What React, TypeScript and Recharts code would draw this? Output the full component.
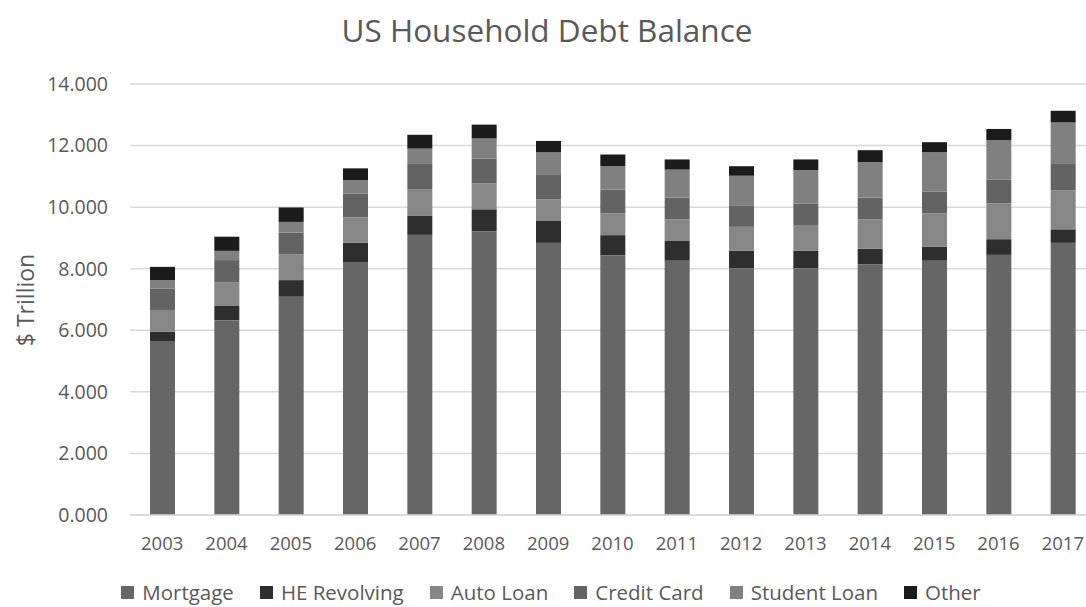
import { BarChart, Bar, XAxis, YAxis, CartesianGrid } from 'recharts'

const years = ['2003', '2004', '2005', '2006', '2007', '2008', '2009', '2010', '2011', '2012', '2013', '2014', '2015', '2016', '2017']
const mortgage = [5.63, 6.33, 7.11, 8.2, 9.1, 9.22, 8.84, 8.44, 8.26, 8.01, 8.01, 8.14, 8.26, 8.45, 8.84]
const heRevolving = [0.32, 0.46, 0.52, 0.64, 0.63, 0.71, 0.71, 0.65, 0.64, 0.57, 0.57, 0.51, 0.45, 0.51, 0.44]
const autoLoan = [0.71, 0.76, 0.83, 0.83, 0.84, 0.84, 0.7, 0.71, 0.7, 0.78, 0.84, 0.95, 1.09, 1.16, 1.27]
const creditCard = [0.7, 0.73, 0.71, 0.77, 0.83, 0.81, 0.82, 0.77, 0.71, 0.7, 0.7, 0.71, 0.7, 0.77, 0.85]
const studentLoan = [0.27, 0.3, 0.35, 0.44, 0.5, 0.65, 0.71, 0.76, 0.91, 0.96, 1.08, 1.15, 1.29, 1.29, 1.35]
const other = [0.43, 0.46, 0.47, 0.38, 0.45, 0.45, 0.37, 0.38, 0.33, 0.31, 0.35, 0.39, 0.32, 0.36, 0.38]
const yTicks = [0, 2, 4, 6, 8, 10, 12, 14]

const SERIES = [
  { key: 'mortgage', name: 'Mortgage', color: '#666666' },
  { key: 'heRevolving', name: 'HE Revolving', color: '#2e2e2e' },
  { key: 'autoLoan', name: 'Auto Loan', color: '#878787' },
  { key: 'creditCard', name: 'Credit Card', color: '#636363' },
  { key: 'studentLoan', name: 'Student Loan', color: '#808080' },
  { key: 'other', name: 'Other', color: '#1b1b1b' },
]

const data = years.map((year, i) => ({
  year,
  mortgage: mortgage[i],
  heRevolving: heRevolving[i],
  autoLoan: autoLoan[i],
  creditCard: creditCard[i],
  studentLoan: studentLoan[i],
  other: other[i],
}))

const FONT = '"Open Sans", sans-serif'
const TEXT = '#595959'

export default function App() {
  return (
    <div
      style={{
        position: 'fixed',
        left: 0,
        top: 0,
        width: 1086,
        height: 607,
        overflow: 'hidden',
        background: '#fff',
        fontFamily: FONT,
        color: TEXT,
      }}
    >
      <div
        style={{
          position: 'absolute',
          left: 0,
          top: 8,
          width: 1094,
          textAlign: 'center',
          fontSize: 31.5,
          lineHeight: '44px',
        }}
      >
        US Household Debt Balance
      </div>
      <div
        style={{
          position: 'absolute',
          left: 25,
          top: 300,
          transform: 'translate(-50%, -50%) rotate(-90deg)',
          fontSize: 23,
          whiteSpace: 'nowrap',
        }}
      >
        $ Trillion
      </div>
      <div style={{ position: 'absolute', left: 0, top: 0 }}>
        <BarChart
          width={1100}
          height={607}
          data={data}
          barSize={25}
          margin={{ top: 84, right: 5, bottom: 62, left: 50 }}
        >
          <CartesianGrid vertical={false} stroke="#d9d9d9" strokeWidth={1.5} />
          <XAxis
            dataKey="year"
            height={30}
            axisLine={{ stroke: '#d9d9d9', strokeWidth: 1.5 }}
            tickLine={false}
            tickSize={0}
            tickMargin={22}
            interval={0}
            tick={{ fontSize: 18.5, fill: TEXT, fontFamily: FONT }}
          />
          <YAxis
            width={80}
            domain={[0, 14]}
            ticks={yTicks}
            axisLine={false}
            tickLine={false}
            tickSize={0}
            tickMargin={22}
            tickFormatter={(v: number) => v.toFixed(3)}
            tick={{ fontSize: 19.5, fill: TEXT, fontFamily: FONT }}
          />
          {SERIES.map((s) => (
            <Bar key={s.key} dataKey={s.key} name={s.name} stackId="a" fill={s.color} isAnimationActive={false} />
          ))}
        </BarChart>
      </div>
      <div
        style={{
          position: 'absolute',
          left: 0,
          top: 581,
          width: 1102,
          display: 'flex',
          justifyContent: 'center',
          gap: 26,
          fontSize: 20.5,
          lineHeight: '22px',
        }}
      >
        {SERIES.map((s) => (
          <span key={s.key} style={{ display: 'flex', alignItems: 'center', gap: 8 }}>
            <span style={{ display: 'inline-block', width: 13, height: 13, background: s.color }} />
            {s.name}
          </span>
        ))}
      </div>
    </div>
  )
}
